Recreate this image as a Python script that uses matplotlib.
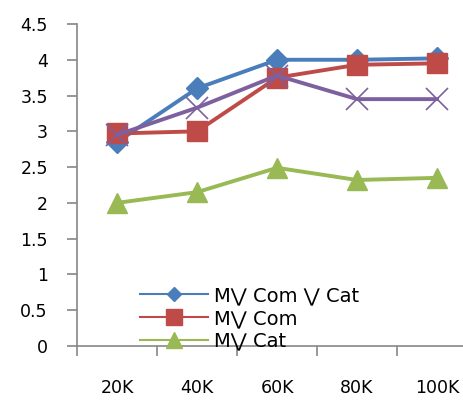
import matplotlib
matplotlib.use("Agg")
import matplotlib.pyplot as plt
from matplotlib.lines import Line2D
import numpy as np

categories = ["20K", "40K", "60K", "80K", "100K"]
mv_com_cat = [2.85, 3.6, 4.0, 4.0, 4.02]
mv_com = [2.97, 3.0, 3.75, 3.93, 3.95]
mv_cat = [2.0, 2.15, 2.49, 2.32, 2.35]
mv_other = [2.95, 3.33, 3.78, 3.45, 3.45]

labels = ["M\u22c1 Com \u22c1 Cat", "M\u22c1 Com", "M\u22c1 Cat"]
BLUE, RED, GREEN, PURPLE = "#4a7ebb", "#be4b48", "#98b954", "#7d60a0"
GRAY = "#868686"

plt.rcParams["font.family"] = ["DejaVu Sans"]

fig = plt.figure(figsize=(4.64, 4.04), dpi=100)
W, H = 464, 404
# axis runs past the right edge of the picture, as in the reference
ax = fig.add_axes([77 / W, (H - 346) / H, 400 / W, 322 / H])

x = np.arange(len(categories))
ax.plot(x, mv_com_cat, color=BLUE, lw=2.8, marker="D", ms=11, zorder=3)
ax.plot(x, mv_com, color=RED, lw=2.8, marker="s", ms=15, zorder=3)
ax.plot(x, mv_cat, color=GREEN, lw=2.8, marker="^", ms=14, zorder=3)
ax.plot(x, mv_other, color=PURPLE, lw=2.8, marker="x", ms=16, mew=1.2, zorder=4)

ax.set_xlim(-0.5, 4.5)
ax.set_ylim(0, 4.5)
ax.set_yticks(np.arange(0, 4.51, 0.5))
ax.set_yticklabels(["0", "0.5", "1", "1.5", "2", "2.5", "3", "3.5", "4", "4.5"])
ax.set_xticks(x)
ax.set_xticklabels(categories)
ax.set_xticks(np.arange(-0.5, 5.0, 1.0), minor=True)

for side in ("top", "right"):
    ax.spines[side].set_visible(False)
for side in ("left", "bottom"):
    ax.spines[side].set_color(GRAY)
    ax.spines[side].set_linewidth(1.2)

ax.tick_params(axis="y", direction="out", length=7, width=1.2, color=GRAY,
               labelsize=12.5, pad=14)
ax.tick_params(axis="x", which="major", length=0, labelsize=12.5, pad=24)
ax.tick_params(axis="x", which="minor", direction="out", length=7, width=1.2,
               color=GRAY)

handles = [
    Line2D([], [], color=BLUE, lw=1.5, marker="D", ms=7),
    Line2D([], [], color=RED, lw=1.5, marker="s", ms=11),
    Line2D([], [], color=GREEN, lw=1.5, marker="^", ms=11),
]
fig.legend(handles, labels, loc="upper left",
           bbox_to_anchor=(140 / W, 1 - 286 / H), frameon=False,
           fontsize=14, handlelength=3.5, handletextpad=0.3,
           labelspacing=0.2, borderpad=0, borderaxespad=0)

fig.savefig("out.png", dpi=100)
